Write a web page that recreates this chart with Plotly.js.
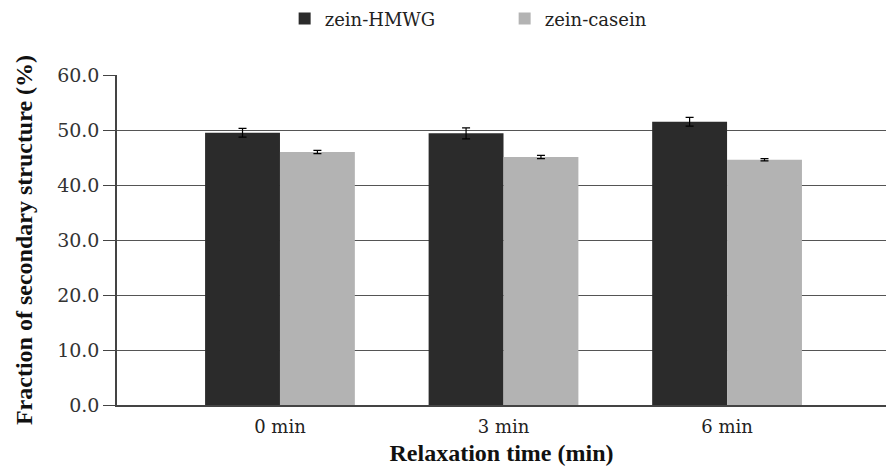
<!DOCTYPE html>
<html><head><meta charset="utf-8">
<script src="https://cdn.plot.ly/plotly-3.0.1.min.js"></script>
<style>html,body{margin:0;padding:0;background:#fff}#c{width:886px;height:469px}</style>
</head><body><div id="c"></div>
<script>
var categories = ["0 min", "3 min", "6 min"];
var hmwgValues = [49.5, 49.4, 51.5];
var hmwgErrors = [0.8, 1.0, 0.8];
var caseinValues = [46.0, 45.1, 44.6];
var caseinErrors = [0.3, 0.3, 0.2];
var yTicks = [0, 10, 20, 30, 40, 50, 60];

var regFont = "DejaVu Serif, serif";
var boldFont = "Liberation Serif, Times New Roman, serif";
var traces = [
  {type: "bar", name: "zein-HMWG", x: categories, y: hmwgValues,
   marker: {color: "#2b2b2b"},
   error_y: {type: "data", array: hmwgErrors, visible: true, color: "#000", thickness: 1.2, width: 4}},
  {type: "bar", name: "zein-casein", x: categories, y: caseinValues,
   marker: {color: "#b3b3b3"},
   error_y: {type: "data", array: caseinErrors, visible: true, color: "#000", thickness: 1.2, width: 4}}
];
var layout = {
  width: 886, height: 469,
  margin: {l: 117, r: 0, t: 73, b: 64},
  paper_bgcolor: "#fff", plot_bgcolor: "#fff",
  barmode: "group", bargap: 0.33, bargroupgap: 0,
  font: {family: regFont, size: 18, color: "#222"},
  showlegend: true,
  legend: {orientation: "h", x: 0.218, y: 1.17, xanchor: "left", yanchor: "middle",
           font: {family: regFont, size: 18, color: "#222"}, entrywidth: 175, itemwidth: 30},
  xaxis: {type: "category", range: [-0.729, 2.711], showgrid: false, showline: true,
          linecolor: "#444", linewidth: 1.5, ticks: "outside", ticklen: 5, tickcolor: "rgba(0,0,0,0)",
          tickfont: {family: regFont, size: 18, color: "#222"},
          title: {text: "<b>Relaxation time (min)</b>", font: {family: boldFont, size: 24, color: "#111"}, standoff: 8}},
  yaxis: {range: [0, 60], tickvals: yTicks, tickformat: ".1f", showgrid: true, gridcolor: "#555", gridwidth: 1,
          showline: true, linecolor: "#444", linewidth: 1.5, ticks: "outside", ticklen: 12, tickcolor: "#444",
          zeroline: false, tickfont: {family: regFont, size: 19, color: "#333"},
          title: {text: "<b>Fraction of secondary structure (%)</b>", font: {family: boldFont, size: 24, color: "#111"}, standoff: 18}}
};
Plotly.newPlot("c", traces, layout, {displayModeBar: false});
</script></body></html>
